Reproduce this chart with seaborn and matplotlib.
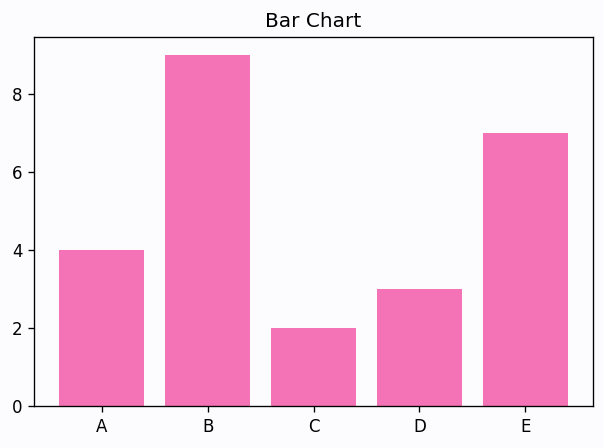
import pandas as pd
import matplotlib
matplotlib.use("Agg")
import matplotlib.pyplot as plt
import seaborn as sns

categories = ["A", "B", "C", "D", "E"]
values = [4, 9, 2, 3, 7]

bg = "#FCFCFF"
bar_color = "#F472B6"

df = pd.DataFrame({"category": categories, "value": values})

dpi = 120
fig = plt.figure(figsize=(604 / dpi, 448 / dpi), dpi=dpi, facecolor=bg)
ax = fig.add_axes([34 / 604, 1 - 406 / 448, (593 - 34) / 604, (406 - 37) / 448])
ax.set_facecolor(bg)

sns.barplot(data=df, x="category", y="value", color=bar_color, saturation=1,
            width=0.8, ax=ax)

ax.set_xlim(-0.64, 4.64)
ax.set_ylim(0, 9.45)
ax.set_xlabel("")
ax.set_ylabel("")
ax.set_title("Bar Chart")

fig.savefig("out.png", dpi=dpi, facecolor=bg)
